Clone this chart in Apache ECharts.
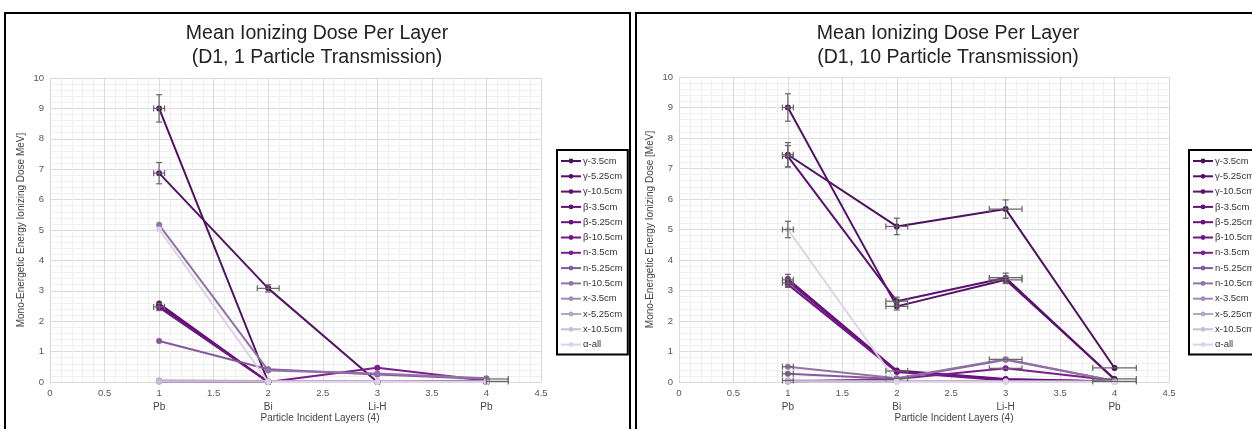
<!DOCTYPE html>
<html><head><meta charset="utf-8">
<script src="https://cdn.jsdelivr.net/npm/echarts@6/dist/echarts.min.js"></script>
<style>html,body{margin:0;padding:0;background:#fff}#c{width:1252px;height:429px}</style>
</head><body><div id="c"></div>
<script>
// ---- data ----
const seriesNames = ['γ-3.5cm','γ-5.25cm','γ-10.5cm','β-3.5cm','β-5.25cm','β-10.5cm','n-3.5cm','n-5.25cm','n-10.5cm','x-3.5cm','x-5.25cm','x-10.5cm','α-all'];
const layerPositions = [1, 2, 3, 4];
const layerNames = ['Pb', 'Bi', 'Li-H', 'Pb'];
const panelTitles = ['Mean Ionizing Dose Per Layer\n(D1, 1 Particle Transmission)', 'Mean Ionizing Dose Per Layer\n(D1, 10 Particle Transmission)'];
const yNames = ['Mono-Energetic Energy Ionizing Dose MeV]', 'Mono-Energetic Energy Ionizing Dose [MeV]'];
const xName = 'Particle Incident Layers (4)';

// panel 1: 1 particle transmission
const p1_g35  = [9.0, 0, 0, 0];
const p1_g525 = [6.87, 3.08, 0, 0.05];
const p1_g105 = [2.58, 0, 0, 0];
const p1_b35  = [2.52, 0, 0, 0];
const p1_b525 = [2.48, 0, 0, 0];
const p1_b105 = [2.45, 0, 0, 0];
const p1_n35  = [0.02, 0, 0.47, 0.05];
const p1_n525 = [1.35, 0.42, 0.25, 0.1];
const p1_n105 = [5.17, 0.38, 0.28, 0.12];
const p1_x35  = [0.05, 0.03, 0.02, 0.02];
const p1_x525 = [0.03, 0.02, 0.02, 0.02];
const p1_x105 = [0.02, 0.02, 0.01, 0.01];
const p1_aall = [5.02, 0, 0, 0];

// panel 2: 10 particle transmission
const p2_g35  = [7.45, 5.1, 5.67, 0.46];
const p2_g525 = [9.0, 2.48, 3.35, 0.1];
const p2_g105 = [7.4, 2.65, 3.42, 0.08];
const p2_b35  = [3.38, 0.38, 0.1, 0.02];
const p2_b525 = [3.3, 0.35, 0.08, 0.02];
const p2_b105 = [3.2, 0.33, 0.05, 0.02];
const p2_n35  = [0.02, 0.1, 0.45, 0.05];
const p2_n525 = [0.27, 0.1, 0.73, 0.03];
const p2_n105 = [0.5, 0.12, 0.75, 0.03];
const p2_x35  = [0.05, 0.03, 0.02, 0.01];
const p2_x525 = [0.03, 0.02, 0.02, 0.01];
const p2_x105 = [0.02, 0.02, 0.02, 0.01];
const p2_aall = [5.0, 0, 0, 0];

// error bars: [x, y, x-, x+, y-, y+]
const p1_err = [[1,9.0,0.05,0.05,0.45,0.45],[1,6.87,0.05,0.05,0.35,0.35],[1,2.47,0.05,0.05,0.12,0.12],[2,3.08,0.1,0.1,0.12,0.12],[4,0.1,0,0.2,0,0],[4,0.02,0,0.2,0,0]];
const p2_err = [[1,9.0,0.05,0.05,0.45,0.45],[1,7.45,0.05,0.05,0.4,0.4],[1,7.4,0.05,0.05,0.35,0.35],[1,5.0,0.05,0.05,0.27,0.27],[1,3.35,0.05,0.05,0.18,0.18],[1,3.25,0.05,0.05,0.15,0.15],
  [2,5.1,0.1,0.1,0.27,0.27],[2,2.65,0.1,0.1,0.13,0.13],[2,2.48,0.1,0.1,0.12,0.12],[2,0.36,0.1,0.1,0,0],[2,0.12,0.1,0.1,0,0],
  [3,5.67,0.15,0.15,0.3,0.3],[3,3.42,0.15,0.15,0.15,0.15],[3,3.35,0.15,0.15,0.12,0.12],[3,0.74,0.15,0.15,0,0],[3,0.45,0.15,0.15,0,0],
  [4,0.46,0.2,0.2,0,0],[4,0.1,0.2,0.2,0,0],[4,0.02,0.2,0.2,0,0],[1,0.5,0.05,0.05,0,0],[1,0.27,0.05,0.05,0,0],[1,0.05,0.05,0.05,0,0]];

const colors = ['#4d115e','#541266','#5b126e','#621276','#69137d','#701585','#7c1d90','#865998','#9372a5','#a28bb3','#b6a5c4','#cabdd5','#ddd3e5'];
const p1Data = [p1_g35,p1_g525,p1_g105,p1_b35,p1_b525,p1_b105,p1_n35,p1_n525,p1_n105,p1_x35,p1_x525,p1_x105,p1_aall];
const p2Data = [p2_g35,p2_g525,p2_g105,p2_b35,p2_b525,p2_b105,p2_n35,p2_n525,p2_n105,p2_x35,p2_x525,p2_x105,p2_aall];

// ---- chart ----
const FONT = '"Liberation Sans", Arial, sans-serif';
const chart = echarts.init(document.getElementById('c'), null, {renderer:'canvas'});

const grids = [
  {left: 50, top: 78, width: 491, height: 304},
  {left: 679, top: 77, width: 490, height: 305}
];

function mainX(i){
  return {type:'value', gridIndex:i, min:0, max:4.5, interval:0.5,
    axisLine:{show:true, lineStyle:{color:'#d9d9d9'}}, axisTick:{show:false},
    axisLabel:{fontSize:9.5, color:'#555', margin:6, fontFamily:FONT},
    splitLine:{show:true, lineStyle:{color:'#dadada', width:1}},
    minorTick:{show:false, splitNumber:5},
    minorSplitLine:{show:true, lineStyle:{color:'#f0f0f0', width:1}}};
}
function catX(i){
  return {type:'value', gridIndex:i, min:0, max:4.5, interval:1, position:'bottom', offset:14,
    axisLine:{show:false}, axisTick:{show:false}, splitLine:{show:false},
    axisLabel:{fontSize:10, color:'#444', margin:6, fontFamily:FONT, showMaxLabel:false,
      formatter: v => { const k = layerPositions.indexOf(Math.round(v*100)/100); return k >= 0 ? layerNames[k] : ''; }}};
}
function mainY(i){
  return {type:'value', gridIndex:i, min:0, max:10, interval:1,
    name: yNames[i], nameLocation:'middle', nameGap:24,
    nameTextStyle:{fontSize:10, color:'#444', fontFamily:FONT},
    axisLine:{show:false}, axisTick:{show:false},
    axisLabel:{fontSize:9.5, color:'#555', margin:6, fontFamily:FONT},
    splitLine:{show:true, lineStyle:{color:'#dadada', width:1}},
    minorTick:{show:false, splitNumber:5},
    minorSplitLine:{show:true, lineStyle:{color:'#f0f0f0', width:1}}};
}

function errRender(params, api){
  const x = api.value(0), y = api.value(1), xm = api.value(2), xp = api.value(3), ym = api.value(4), yp = api.value(5);
  const children = [];
  const cap = 3;
  const st = {stroke:'#666', lineWidth:1.2};
  if (xm || xp) {
    const l = api.coord([x - xm, y]), r = api.coord([x + xp, y]);
    children.push({type:'line', shape:{x1:l[0], y1:l[1], x2:r[0], y2:r[1]}, style:st});
    children.push({type:'line', shape:{x1:l[0], y1:l[1]-cap, x2:l[0], y2:l[1]+cap}, style:st});
    children.push({type:'line', shape:{x1:r[0], y1:r[1]-cap, x2:r[0], y2:r[1]+cap}, style:st});
  }
  if (ym || yp) {
    const t = api.coord([x, y + yp]), b = api.coord([x, y - ym]);
    children.push({type:'line', shape:{x1:t[0], y1:t[1], x2:b[0], y2:b[1]}, style:st});
    children.push({type:'line', shape:{x1:t[0]-cap, y1:t[1], x2:t[0]+cap, y2:t[1]}, style:st});
    children.push({type:'line', shape:{x1:b[0]-cap, y1:b[1], x2:b[0]+cap, y2:b[1]}, style:st});
  }
  return {type:'group', children};
}

const series = [];
[p1Data, p2Data].forEach((panel, pi) => {
  panel.forEach((vals, si) => {
    series.push({
      name: seriesNames[si], type:'line', xAxisIndex: pi*2, yAxisIndex: pi,
      data: layerPositions.map((x, k) => [x, vals[k]]),
      symbol:'circle', symbolSize:6, showSymbol:true,
      lineStyle:{width:2, color: colors[si]}, itemStyle:{color: colors[si]},
      animation:false, z: 2
    });
  });
  series.push({
    type:'custom', name:'err'+pi, xAxisIndex: pi*2, yAxisIndex: pi,
    data: pi === 0 ? p1_err : p2_err, renderItem: errRender, z: 3, animation:false, silent:true
  });
});

function legendAt(left){
  return {orient:'vertical', left: left, top: 150, data: seriesNames,
    itemWidth: 20, itemHeight: 6, itemGap: 5.3, padding:[6,5,5,3],
    borderColor:'#000', borderWidth:2, backgroundColor:'#fff',
    textStyle:{fontSize:9.5, color:'#333', fontFamily:FONT, padding:[0,0,0,-3]}};
}

chart.setOption({
  animation:false,
  textStyle:{fontFamily:FONT},
  title: [0,1].map(i => ({
    text: panelTitles[i], left: i === 0 ? 317 : 948, top: 22, textAlign:'center', padding:0,
    textStyle:{fontSize:19.5, fontWeight:'normal', color:'#222', lineHeight:24, fontFamily:FONT}
  })),
  grid: grids,
  xAxis: [mainX(0), catX(0), mainX(1), catX(1)],
  yAxis: [mainY(0), mainY(1)],
  legend: [legendAt(557), legendAt(1189)],
  series: series,
  graphic: [
    {type:'rect', shape:{x:5, y:13, width:625, height:440}, style:{fill:null, stroke:'#000', lineWidth:2}, z:100},
    {type:'rect', shape:{x:636, y:13, width:700, height:440}, style:{fill:null, stroke:'#000', lineWidth:2}, z:100},
    {type:'text', x:320, y:418, style:{text:xName, fill:'#444', fontSize:10, fontFamily:FONT, textAlign:'center', textVerticalAlign:'middle'}},
    {type:'text', x:954, y:418, style:{text:xName, fill:'#444', fontSize:10, fontFamily:FONT, textAlign:'center', textVerticalAlign:'middle'}}
  ]
});
</script>
</body></html>
